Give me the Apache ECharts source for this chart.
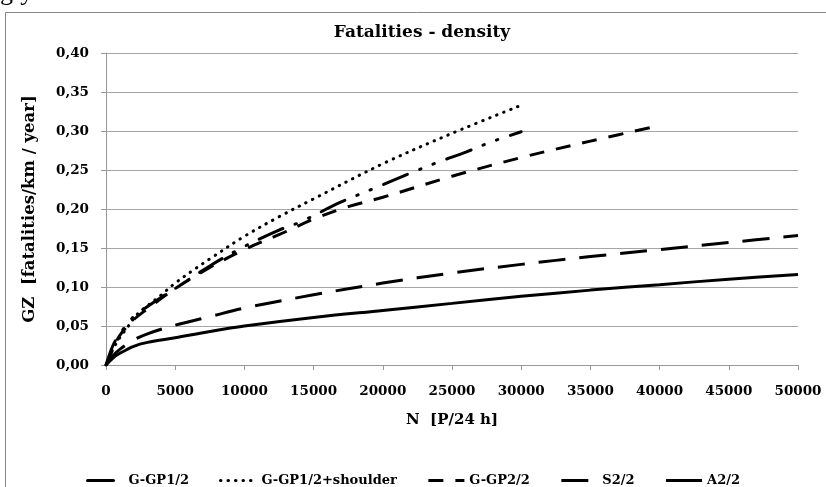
<!DOCTYPE html>
<html>
<head>
<meta charset="utf-8">
<script src="https://cdn.jsdelivr.net/npm/echarts@6/dist/echarts.min.js"></script>
<style>
  html, body { margin: 0; padding: 0; background: #fff; }
  #chart { width: 826px; height: 487px; }
</style>
</head>
<body>
<div id="chart"></div>
<script>
const xTicks = [0, 5000, 10000, 15000, 20000, 25000, 30000, 35000, 40000, 45000, 50000]
const seriesNames = ["G-GP1/2", "G-GP1/2+shoulder", "G-GP2/2", "S2/2", "A2/2"]

// G-GP1/2 (long dash - dot - dot)
const nGGP1 = [0, 500, 1000, 2000, 3000, 4000, 5000, 7500, 10000, 12500, 14000, 17000, 20000, 22000, 24000, 26000, 28000, 30000]
const gzGGP1 = [0, 0.025, 0.040, 0.062, 0.075, 0.087, 0.098, 0.127, 0.152, 0.173, 0.183, 0.209, 0.231, 0.246, 0.260, 0.273, 0.287, 0.299]

// G-GP1/2+shoulder (dotted)
const nShoulder = [0, 500, 1000, 1500, 2300, 3000, 4000, 5000, 6500, 7500, 10000, 12500, 15000, 20000, 25000, 30000]
const gzShoulder = [0, 0.020, 0.035, 0.047, 0.066, 0.076, 0.090, 0.105, 0.124, 0.136, 0.165, 0.190, 0.213, 0.258, 0.297, 0.333]

// G-GP2/2 (short dash)
const nGGP2 = [0, 500, 1000, 2000, 3000, 5000, 7500, 10000, 12500, 15000, 17500, 20000, 25000, 30000, 35000, 40000]
const gzGGP2 = [0, 0.020, 0.038, 0.058, 0.072, 0.098, 0.125, 0.148, 0.167, 0.187, 0.203, 0.215, 0.242, 0.266, 0.287, 0.307]

// S2/2 (long dash)
const nS2 = [0, 500, 1000, 2000, 3000, 5000, 7500, 10000, 15000, 20000, 25000, 30000, 35000, 40000, 45000, 50000]
const gzS2 = [0, 0.012, 0.020, 0.032, 0.040, 0.051, 0.062, 0.073, 0.090, 0.105, 0.118, 0.129, 0.139, 0.148, 0.157, 0.166]

// A2/2 (solid)
const nA2 = [0, 500, 1000, 2000, 3000, 5000, 7500, 10000, 15000, 20000, 25000, 30000, 35000, 40000, 45000, 50000]
const gzA2 = [0, 0.009, 0.015, 0.024, 0.029, 0.035, 0.043, 0.050, 0.061, 0.070, 0.079, 0.088, 0.096, 0.103, 0.110, 0.116]

const FONT = "'DejaVu Serif', 'Liberation Serif', serif"

function pairs(xs, ys) {
  return xs.map((x, i) => [x, ys[i]])
}

function lineSeries(name, xs, ys, type, cap) {
  return {
    name,
    type: "line",
    data: pairs(xs, ys),
    symbol: "none",
    smooth: 0.35,
    lineStyle: { color: "#000", width: 3, type, cap: cap || "butt" },
    itemStyle: { color: "#000" },
  }
}

const chart = echarts.init(document.getElementById("chart"))

chart.setOption({
  animation: false,
  backgroundColor: "#fff",
  title: {
    text: "Fatalities - density",
    left: 417,
    textAlign: "center",
    top: 19,
    textStyle: { fontFamily: FONT, fontSize: 17, fontWeight: "bold", color: "#000" },
  },
  graphic: [
    {
      type: "rect",
      shape: { x: 5.5, y: 12.5, width: 900, height: 600 },
      style: { fill: "none", stroke: "#888", lineWidth: 1 },
      silent: true,
    },
    {
      type: "text",
      left: 0,
      top: -20,
      style: { text: "gly", fontFamily: "'Liberation Serif', serif", fontSize: 26, fill: "#000" },
      silent: true,
    },
  ],
  legend: {
    data: seriesNames,
    left: "center",
    top: 469,
    itemWidth: 36,
    itemHeight: 14,
    itemGap: 30,
    itemStyle: { opacity: 0 },
    lineStyle: { width: 3 },
    textStyle: { fontFamily: FONT, fontSize: 13, fontWeight: "bold", color: "#000" },
  },
  grid: { left: 106, right: 28, top: 53, bottom: 122, containLabel: false },
  xAxis: {
    type: "value",
    min: 0,
    max: 50000,
    interval: 5000,
    name: "N  [P/24 h]",
    nameLocation: "middle",
    nameGap: 48,
    nameTextStyle: { fontFamily: FONT, fontSize: 15, fontWeight: "bold", color: "#000" },
    axisLine: { lineStyle: { color: "#999" } },
    axisTick: { show: true, length: 5, lineStyle: { color: "#999" } },
    splitLine: { show: false },
    axisLabel: {
      fontFamily: FONT, fontSize: 13.5, fontWeight: "bold", color: "#000", margin: 19,
      formatter: v => (xTicks.includes(v) ? String(v) : ""),
    },
  },
  yAxis: {
    type: "value",
    min: 0,
    max: 0.4,
    interval: 0.05,
    name: "GZ  [fatalities/km / year]",
    nameLocation: "middle",
    nameGap: 68,
    nameRotate: 90,
    nameTextStyle: { fontFamily: FONT, fontSize: 16.5, fontWeight: "bold", color: "#000" },
    axisLine: { show: true, lineStyle: { color: "#999" } },
    axisTick: { show: true, length: 5, inside: false, lineStyle: { color: "#999" } },
    splitLine: { show: true, lineStyle: { color: "#a6a6a6", width: 1 } },
    axisLabel: {
      fontFamily: FONT, fontSize: 13.5, fontWeight: "bold", color: "#000", margin: 17,
      formatter: v => v.toFixed(2).replace(".", ","),
    },
  },
  series: [
    lineSeries("G-GP1/2", nGGP1, gzGGP1, [26, 13, 1.5, 13, 1.5, 13], "round"),
    lineSeries("G-GP1/2+shoulder", nShoulder, gzShoulder, [0.5, 7], "round"),
    lineSeries("G-GP2/2", nGGP2, gzGGP2, [15, 12]),
    lineSeries("S2/2", nS2, gzS2, [27, 14]),
    lineSeries("A2/2", nA2, gzA2, "solid"),
  ],
})
</script>
</body>
</html>
